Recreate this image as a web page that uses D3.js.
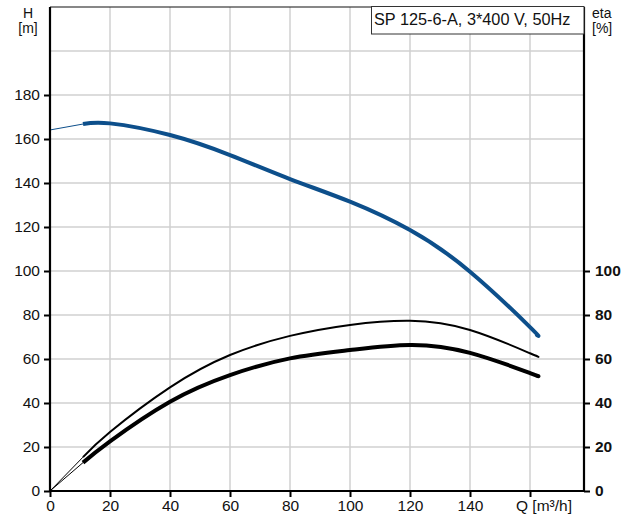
<!DOCTYPE html>
<html><head><meta charset="utf-8">
<script src="https://cdn.jsdelivr.net/npm/d3@7"></script>
<style>body{margin:0;background:#fff}svg{display:block;font-family:"Liberation Sans",Arial,sans-serif}</style>
</head><body><svg id="c" width="629" height="516"></svg>
<script>
// data
const qTicks = [0,20,40,60,80,100,120,140];
const hTicks = [0,20,40,60,80,100,120,140,160,180];
const etaTicks = [0,20,40,60,80,100];
const headQ = [0,11,20,40,60,80,100,120,140,160,162];
const headH = [164.1,166.8,167.1,161.8,152.7,141.8,131.5,118.6,99.7,74.5,71.3];
const etaQ = [0,11,20,40,60,80,100,120,140,160,162];
const etaUpper = [0,15.4,26.8,47.1,61.8,70.5,75.5,77.4,73.2,62.6,61.5];
const etaLower = [0,12.9,22.6,40.6,52.7,60.3,64.1,66.4,62.8,53.6,52.6];
const title = "SP 125-6-A, 3*400 V, 50Hz";

const svg = d3.select("#c");
const x = d3.scaleLinear().domain([0,178]).range([50,584]);
const y = d3.scaleLinear().domain([0,220]).range([491,7]);

// grid
const g = svg.append("g");
g.selectAll("line.v").data(d3.range(20,161,20)).join("line")
  .attr("x1",d=>x(d)).attr("x2",d=>x(d)).attr("y1",y(0)).attr("y2",y(220))
  .attr("stroke","#d0d0d0").attr("stroke-width",1.5);
g.selectAll("line.h").data(d3.range(20,201,20)).join("line")
  .attr("y1",d=>y(d)).attr("y2",d=>y(d)).attr("x1",x(0)).attr("x2",x(178))
  .attr("stroke","#d0d0d0").attr("stroke-width",1.5);
// top border
svg.append("line").attr("x1",x(0)).attr("x2",x(178)).attr("y1",y(220)).attr("y2",y(220))
  .attr("stroke","#111").attr("stroke-width",1.2);

// curves
const pts = (qs,vs)=>qs.map((q,i)=>[q,vs[i]]);
const thinLine = d3.line().x(d=>x(d[0])).y(d=>y(d[1])).curve(d3.curveLinear);
const line = d3.line().x(d=>x(d[0])).y(d=>y(d[1])).curve(d3.curveNatural);
function drawCurve(data,color,w){
  const thin = data.slice(0,2), thick = data.slice(1);
  svg.append("path").attr("d",thinLine(thin)).attr("fill","none").attr("stroke",color).attr("stroke-width",1);
  svg.append("path").attr("d",line(thick)).attr("fill","none").attr("stroke",color).attr("stroke-width",w);
}
drawCurve(pts(headQ,headH),"#0d4f8b",4);
drawCurve(pts(etaQ,etaUpper),"#000",2);
drawCurve(pts(etaQ,etaLower),"#000",4);

// axes
const left = svg.append("g").attr("transform",`translate(${x(0)},0)`)
  .call(d3.axisLeft(y).tickValues(hTicks).tickSize(6).tickPadding(4));
const bottom = svg.append("g").attr("transform",`translate(0,${y(0)})`)
  .call(d3.axisBottom(x).tickValues(qTicks.concat([160])).tickSize(6).tickPadding(3)
  .tickFormat(d=>d===160?"":d));
const right = svg.append("g").attr("transform",`translate(${x(178)},0)`)
  .call(d3.axisRight(y).tickValues(etaTicks).tickSize(6).tickPadding(5));
[left,bottom,right].forEach(a=>{
  a.select(".domain").attr("stroke","#000").attr("stroke-width",2.2);
  a.selectAll(".tick line").attr("stroke","#000").attr("stroke-width",2);
  a.selectAll("text").attr("font-size",15.5).attr("fill","#111")
   .attr("font-family","'Liberation Sans',Arial,sans-serif");
});
left.select(".domain").attr("d",`M0,${y(220)}V${y(0)}`);
right.select(".domain").attr("d",`M0,${y(220)}V${y(0)}`);
bottom.select(".domain").attr("d",`M${x(0)},0H${x(178)}`);
right.selectAll("text").attr("font-weight","bold");

svg.append("text").attr("x",516).attr("y",511).attr("font-size",15.5).attr("fill","#111").text("Q [m³/h]");
svg.append("text").attr("x",28).attr("y",18).attr("text-anchor","middle").attr("font-size",14).attr("fill","#111").text("H");
svg.append("text").attr("x",28).attr("y",33).attr("text-anchor","middle").attr("font-size",14).attr("fill","#111").text("[m]");
svg.append("text").attr("x",592).attr("y",18).attr("font-size",14).attr("fill","#111").text("eta");
svg.append("text").attr("x",592).attr("y",33).attr("font-size",14).attr("fill","#111").text("[%]");

// title box
svg.append("rect").attr("x",371.5).attr("y",6.5).attr("width",x(178)-371.5).attr("height",27.5)
  .attr("fill","#fff").attr("stroke","#333").attr("stroke-width",1);
svg.append("text").attr("x",374).attr("y",25).attr("font-size",16.3).attr("fill","#111").text(title);
</script></body></html>
